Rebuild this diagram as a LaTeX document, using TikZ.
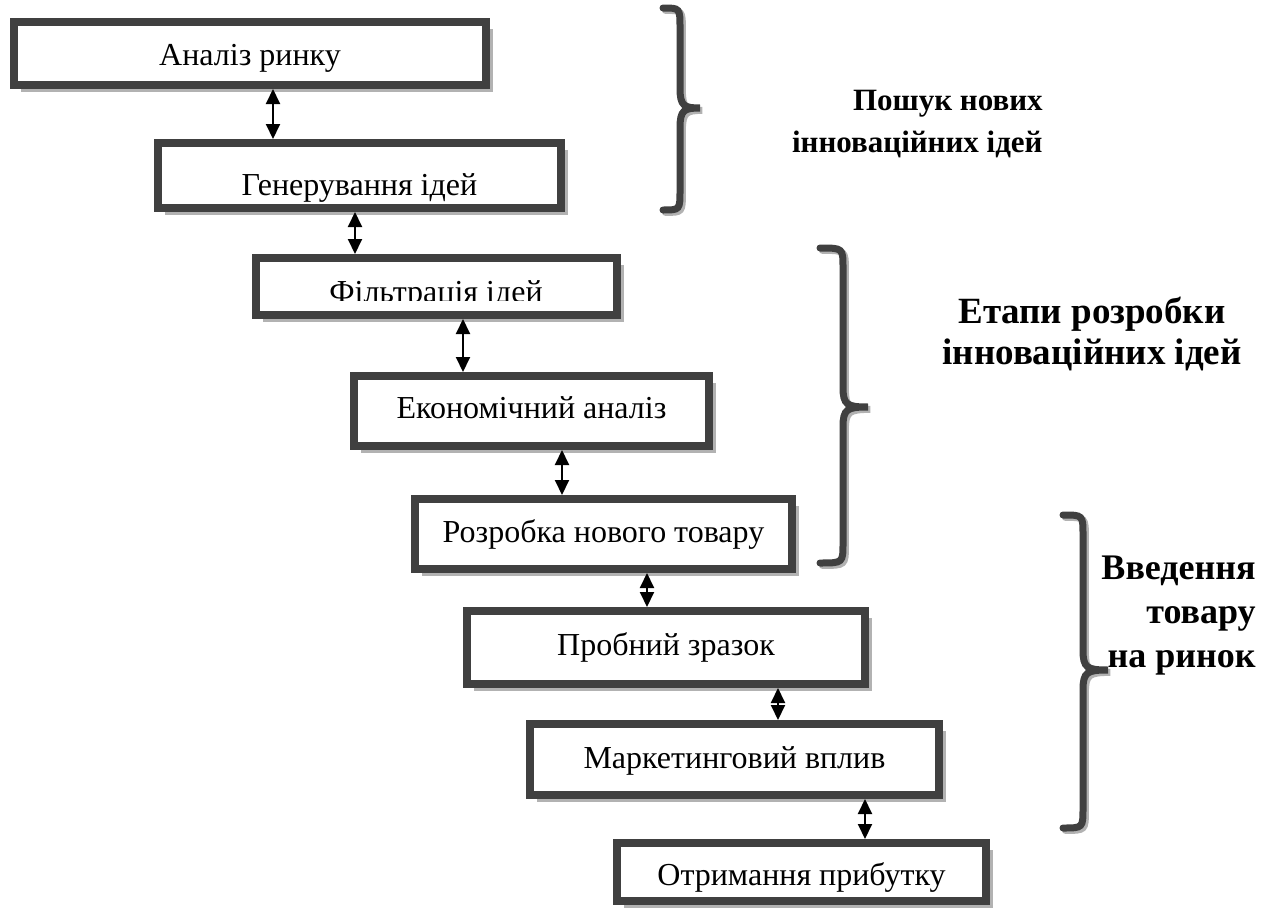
\documentclass[tikz,border=0pt]{standalone}
\usepackage{fontspec}
\setmainfont{Liberation Serif}
\usetikzlibrary{arrows.meta,shadows}
\definecolor{boxgray}{HTML}{404040}
\tikzset{
    etap/.style={draw=boxgray, line width=4pt, fill=white, inner sep=0pt, text depth=0pt,
        font=\fontsize{16}{21.5}\selectfont,
        drop shadow={shadow xshift=3.5pt, shadow yshift=-3.5pt, fill=black!30, opacity=1}},
    etaptext/.style={inner sep=0pt, font=\fontsize{16}{21.5}\selectfont},
    twoway/.style={{Triangle[length=7.5pt,width=7pt]}-{Triangle[length=7.5pt,width=7pt]}, line width=1pt},
    klammer/.style={draw=boxgray, line width=3.5pt, line cap=round},
    klammerschatten/.style={draw=black!30, line width=3.5pt, line cap=round},
    gruppe/.style 2 args={inner sep=0pt, font=\fontsize{#1}{#2}\selectfont\bfseries}
}
\begin{document}
\begin{tikzpicture}[x=0.5pt, y=-0.5pt]
    \useasboundingbox (0,0) rectangle (1271,910);
    % Stages
    \foreach \i/\cx/\cy/\w/\h/\th/\txt in {
        1/250/53.5/236/31.5/11.5/Аналіз ринку,
        2/359.5/175.5/201.5/32.5/19.5/Генерування ідей,
        3/436.5/286.5/180.5/28.5/0/{},
        4/531.5/411/177.5/35/7/Економічний аналіз,
        5/603.5/534/188.5/35/8/Розробка нового товару,
        6/666/647.5/199/36.5/7.5/Пробний зразок,
        7/734.5/759.5/204.5/35.5/8.5/Маркетинговий вплив,
        8/801.5/872/184.5/29/13/Отримання прибутку} {
        \node[etap, minimum width=\w pt, minimum height=\h pt, text height=\th pt] (Etap-\i) at (\cx,\cy) {\txt};
    }
    % text of stage 3 is cut off at the bottom
    \begin{scope}
        \clip (252,254) rectangle (621,300.5);
        \node[etaptext, anchor=base] (Etap-3-text) at (436,302) {Фільтрація ідей};
    \end{scope}
    % Arrows
    \foreach \i/\j/\ax in {1/2/273, 2/3/355, 3/4/463, 4/5/562, 5/6/647, 6/7/778, 7/8/865} {
        \draw[twoway] (Etap-\i.south -| \ax,0) -- (Etap-\j.north -| \ax,0);
    }
    % Braces
    \foreach \xe/\xs/\xt/\yt/\ym/\yb in {663/680/700/8/108/210, 820/843/868/248/407/563, 1063/1083/1108/515/670/828} {
        \foreach \st/\d in {klammerschatten/1.2, klammer/0} {
            \draw[\st, xshift=\d pt, yshift=-\d pt]
                (\xe,\yt) .. controls (\xs,\yt) and (\xs,\yt) .. (\xs,\yt+20)
                -- (\xs,\ym-20) .. controls (\xs,\ym-2) and (\xs+4,\ym) .. (\xt,\ym)
                .. controls (\xs+4,\ym) and (\xs,\ym+2) .. (\xs,\ym+20)
                -- (\xs,\yb-20) .. controls (\xs,\yb) and (\xs,\yb) .. (\xe,\yb);
        }
    }
    % Groups
    \node[gruppe={15.5}{21}, align=right, anchor=east] (Gruppe-1) at (1043,124) {Пошук нових\\інноваційних ідей};
    \node[gruppe={18.5}{20.5}, align=center] (Gruppe-2) at (1092,334) {Етапи розробки\\інноваційних ідей};
    \node[gruppe={18}{22}, align=right, anchor=east] (Gruppe-3) at (1256,616) {Введення\\товару\\на ринок};
\end{tikzpicture}
\end{document}
